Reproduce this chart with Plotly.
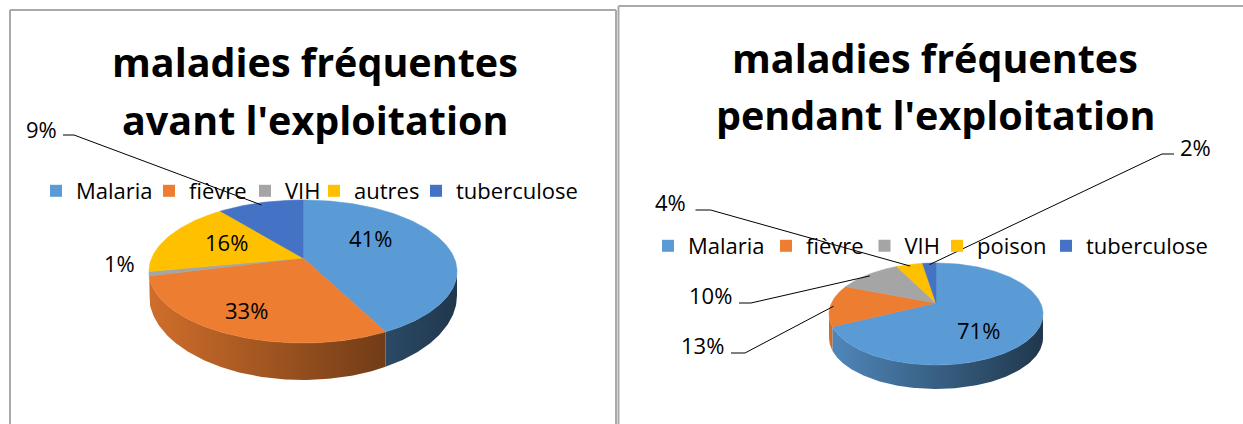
import numpy as np
import plotly.graph_objects as go

# ---------------- data ----------------
categories_before = ["Malaria", "fièvre", "VIH", "autres", "tuberculose"]
values_before = [41, 33, 1, 16, 9]
categories_during = ["Malaria", "fièvre", "VIH", "poison", "tuberculose"]
values_during = [71, 13, 10, 4, 2]
title_before = ["maladies fréquentes", "avant l'exploitation"]
title_during = ["maladies fréquentes", "pendant l'exploitation"]

# ---------------- style ----------------
W, H = 1243, 424
COLORS = ["#5B9BD5", "#ED7D31", "#A5A5A5", "#FFC000", "#4472C4"]
FONT = "Open Sans"

STYLE_BEFORE = dict(
    cx=303, cy=271.5, rx=154, ry=71.5, apex_dy=-13.5, d_edge=24, d_front=37,
    title_x=315, title_y=[62, 120],
    legend_text_x=[76, 189, 285, 354, 456], legend_y=191,
    labels=[("in", 370, 238), ("in", 246, 310), ("in", 119.5, 263), ("in", 226, 242),
            ("out", 41.5, 129, (63, 135), (74, 135))],
)
STYLE_DURING = dict(
    cx=936, cy=314, rx=107, ry=51, apex_dy=-11, d_edge=24, d_front=24,
    title_x=935, title_y=[58, 115],
    legend_text_x=[688, 806, 904.5, 977, 1086], legend_y=246,
    labels=[("in", 978, 330),
            ("out", 702, 345, (731, 353), (745, 353)),
            ("out", 710, 295, (739, 303), (751, 303)),
            ("out", 670, 202, (695.5, 210), (710.6, 210)),
            ("out", 1195, 147, (1174, 154), (1162, 154))],
)


def hex_rgb(h):
    h = h.lstrip("#")
    return [int(h[i:i + 2], 16) for i in (0, 2, 4)]


def shade(h, f):
    r, g, b = hex_rgb(h)
    return "rgb(%d,%d,%d)" % (max(0, min(255, r * f)), max(0, min(255, g * f)), max(0, min(255, b * f)))


fig = go.Figure()
annotations = []
legends = {}
legend_counter = [0]


def add_pie(categories, values, st):
    cx, cy, rx, ry = st["cx"], st["cy"], st["rx"], st["ry"]
    d_edge, d_front = st["d_edge"], st["d_front"]
    ry_b = ry + (d_front - d_edge)
    ax, ay = cx, cy + st["apex_dy"]
    total = float(sum(values))
    fr = np.array(values) / total
    starts = np.concatenate([[0], np.cumsum(fr)[:-1]]) * 360.0
    ends = np.cumsum(fr) * 360.0

    def top(t):
        r = np.radians(t)
        return cx + rx * np.sin(r), cy - ry * np.cos(r)

    def bot(t):
        r = np.radians(t)
        return cx + rx * np.sin(r), cy + d_edge - ry_b * np.cos(r)

    # side walls (front half only), shaded left -> right
    for i, (a0, a1) in enumerate(zip(starts, ends)):
        lo, hi = max(a0, 90.0), min(a1, 270.0)
        if hi <= lo:
            continue
        ts = np.linspace(lo, hi, max(2, int(np.ceil(hi - lo)) + 1))
        tx, ty = top(ts)
        bx, by = bot(ts[::-1])
        xs = np.concatenate([tx, bx, tx[:1]])
        ys = np.concatenate([ty, by, ty[:1]])
        c_left, c_right = shade(COLORS[i], 0.88), shade(COLORS[i], 0.36)
        fig.add_trace(go.Scatter(
            x=xs, y=ys, mode="lines", fill="toself",
            fillgradient=dict(type="horizontal", start=cx - rx, stop=cx + rx,
                              colorscale=[[0, c_left], [1, c_right]]),
            line=dict(width=0, color="rgba(0,0,0,0)"),
            hoverinfo="skip", showlegend=False))

    # top face slices
    for i, (a0, a1) in enumerate(zip(starts, ends)):
        ts = np.linspace(a0, a1, max(2, int(np.ceil((a1 - a0) / 1.0)) + 1))
        px, py = top(ts)
        xs = np.concatenate([[ax], px, [ax]])
        ys = np.concatenate([[ay], py, [ay]])
        fig.add_trace(go.Scatter(
            x=xs, y=ys, mode="lines", fill="toself", fillcolor=COLORS[i],
            line=dict(color=COLORS[i], width=0.6), hoverinfo="text",
            text="%s: %d%%" % (categories[i], values[i]), showlegend=False))

    # data labels + leader lines
    for i, lab in enumerate(st["labels"]):
        txt = "%d%%" % round(fr[i] * 100)
        annotations.append(dict(x=lab[1], y=lab[2], xref="x", yref="y", text=txt,
                                showarrow=False, xanchor="center", yanchor="middle",
                                font=dict(family=FONT, size=22, color="#000000")))
        if lab[0] == "out":
            mid = np.radians((starts[i] + ends[i]) / 2)
            ex, ey = cx + rx * 0.97 * np.sin(mid), cy - ry * 0.97 * np.cos(mid)
            (sx, sy), (kx, ky) = lab[3], lab[4]
            fig.add_trace(go.Scatter(x=[sx, kx, ex], y=[sy, ky, ey], mode="lines",
                                     line=dict(color="#000000", width=1),
                                     hoverinfo="skip", showlegend=False))

    # titles
    for line, yy in zip(st["title"], st["title_y"]):
        annotations.append(dict(x=st["title_x"], y=yy, xref="x", yref="y", text=line,
                                showarrow=False, xanchor="center", yanchor="middle",
                                font=dict(family=FONT, size=39.5, color="#000000", weight="bold")))

    # legend: one single-entry legend per category
    for i, cat in enumerate(categories):
        legend_counter[0] += 1
        k = legend_counter[0]
        name = "legend" if k == 1 else "legend%d" % k
        fig.add_trace(go.Scatter(x=[None], y=[None], mode="markers", name=cat,
                                 marker=dict(symbol="square", size=12, color=COLORS[i]),
                                 legend=name, showlegend=True))
        legends[name] = dict(
            x=(st["legend_text_x"][i] - 40) / W, y=1 - st["legend_y"] / H,
            xanchor="left", yanchor="middle", orientation="h",
            bgcolor="rgba(0,0,0,0)", borderwidth=0, itemwidth=30,
            font=dict(family=FONT, size=22, color="#000000"))


STYLE_BEFORE["title"] = title_before
STYLE_DURING["title"] = title_during
add_pie(categories_before, values_before, STYLE_BEFORE)
add_pie(categories_during, values_during, STYLE_DURING)

border = dict(color="#A9A9A9", width=2)
shapes = [
    dict(type="line", xref="x", yref="y", x0=10, y0=10, x1=10, y1=430, line=border),
    dict(type="line", xref="x", yref="y", x0=10, y0=10, x1=616, y1=10, line=border),
    dict(type="line", xref="x", yref="y", x0=616, y0=10, x1=616, y1=430, line=border),
    dict(type="line", xref="x", yref="y", x0=618.5, y0=6, x1=618.5, y1=430, line=border),
    dict(type="line", xref="x", yref="y", x0=618.5, y0=6, x1=1250, y1=6, line=border),
]

fig.update_layout(
    width=W, height=H, margin=dict(l=0, r=0, t=0, b=0),
    paper_bgcolor="white", plot_bgcolor="white",
    xaxis=dict(range=[0, W], visible=False, fixedrange=True),
    yaxis=dict(range=[H, 0], visible=False, fixedrange=True),
    annotations=annotations, shapes=shapes, hovermode="closest",
    font=dict(family=FONT),
    **legends,
)

fig.write_html("out.html", config={"displayModeBar": False},
               post_script="document.body.style.margin='0';document.body.style.overflow='hidden';")
